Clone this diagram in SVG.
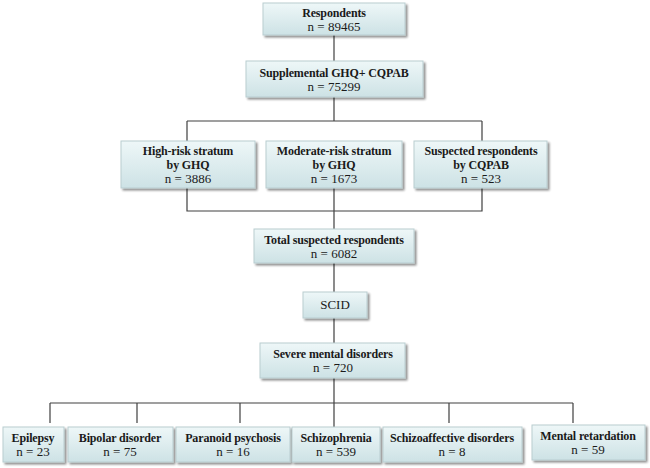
<svg xmlns="http://www.w3.org/2000/svg" width="650" height="468" viewBox="0 0 650 468">
<defs>
<linearGradient id="g" x1="0" y1="0" x2="0" y2="1">
<stop offset="0" stop-color="#eef7f8"/>
<stop offset="1" stop-color="#cde2e5"/>
</linearGradient>
<filter id="sh" x="-10%" y="-20%" width="125%" height="150%">
<feGaussianBlur in="SourceAlpha" stdDeviation="1.2"/>
<feOffset dx="1.5" dy="2" result="o"/>
<feComponentTransfer><feFuncA type="linear" slope="0.45"/></feComponentTransfer>
<feMerge><feMergeNode/><feMergeNode in="SourceGraphic"/></feMerge>
</filter>
</defs>
<style>
.b{fill:url(#g);stroke:#b9cdd0;stroke-width:1;filter:url(#sh)}
text{font-family:"Liberation Serif","Times New Roman",serif;font-size:13px;fill:#1a1a1a;text-anchor:middle}
.t{font-weight:bold;font-size:12px;letter-spacing:-0.15px}
.c{fill:none;stroke:#404040;stroke-width:1.2}
</style>
<rect width="650" height="468" fill="#ffffff"/>
<g id="connectors">
<path class="c" d="M334 35V61"/>
<path class="c" d="M334 97V121M187 121H482M187 121V141M482 121V141"/>
<path class="c" d="M187 188V211H482V188M334 188V229"/>
<path class="c" d="M334 263V292M334 318V343M334 378V427"/>
<path class="c" d="M50 403H573M50 403V423M137 403V423M240 403V423M449 403V423M573 403V423"/>
</g>
<g id="respondents"><rect class="b" x="263" y="3" width="142" height="32"/><text class="t" x="334" y="17">Respondents</text><text x="334" y="31">n = 89465</text></g>
<g id="supplemental"><rect class="b" x="246" y="61" width="177" height="36"/><text class="t" x="334" y="77">Supplemental GHQ+ CQPAB</text><text x="334" y="91">n = 75299</text></g>
<g id="highrisk"><rect class="b" x="121" y="141" width="134" height="47"/><text class="t" x="188" y="155">High-risk stratum</text><text class="t" x="188" y="169">by GHQ</text><text x="188" y="183">n = 3886</text></g>
<g id="moderaterisk"><rect class="b" x="266" y="141" width="136" height="47"/><text class="t" x="334" y="155">Moderate-risk stratum</text><text class="t" x="334" y="169">by GHQ</text><text x="334" y="183">n = 1673</text></g>
<g id="suspected"><rect class="b" x="414" y="141" width="133" height="47"/><text class="t" x="481" y="155">Suspected respondents</text><text class="t" x="481" y="169">by CQPAB</text><text x="481" y="183">n = 523</text></g>
<g id="total"><rect class="b" x="254" y="229" width="160" height="34"/><text class="t" x="334" y="244">Total suspected respondents</text><text x="334" y="258">n = 6082</text></g>
<g id="scid"><rect class="b" x="303" y="292" width="64" height="26"/><text x="335" y="309">SCID</text></g>
<g id="severe"><rect class="b" x="260" y="343" width="145" height="35"/><text class="t" x="333" y="358">Severe mental  disorders</text><text x="333" y="372">n = 720</text></g>
<g id="epilepsy"><rect class="b" x="3" y="427" width="61" height="35"/><text class="t" x="33" y="442">Epilepsy</text><text x="33" y="456">n = 23</text></g>
<g id="bipolar"><rect class="b" x="68" y="427" width="105" height="35"/><text class="t" x="120" y="442">Bipolar disorder</text><text x="120" y="456">n = 75</text></g>
<g id="paranoid"><rect class="b" x="176" y="427" width="114" height="35"/><text class="t" x="233" y="442">Paranoid psychosis</text><text x="233" y="456">n = 16</text></g>
<g id="schizophrenia"><rect class="b" x="292" y="427" width="88" height="35"/><text class="t" x="336" y="442">Schizophrenia</text><text x="336" y="456">n = 539</text></g>
<g id="schizoaffective"><rect class="b" x="383" y="427" width="139" height="35"/><text class="t" x="452" y="442">Schizoaffective disorders</text><text x="452" y="456">n = 8</text></g>
<g id="mental"><rect class="b" x="532" y="425" width="113" height="35"/><text class="t" x="588" y="440">Mental retardation</text><text x="588" y="454">n = 59</text></g>
</svg>
